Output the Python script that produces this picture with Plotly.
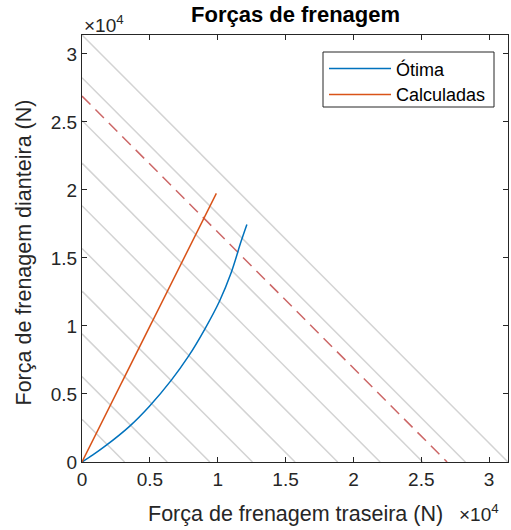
import plotly.graph_objects as go

# ---- data (N) ----
# ideal (optimal) distribution: rear force, front force
otima_traseira = [0, 800, 1700, 3500, 4970, 6570, 7850, 9030, 10130, 10990, 11730, 12150]
otima_dianteira = [0, 520, 1160, 2620, 4100, 6000, 7780, 9740, 11820, 13910, 16240, 17460]
# calculated (fixed ratio) distribution
calc_traseira = [0, 9900]
calc_dianteira = [0, 19750]
# constant total-force lines (intercepts)
niveis_total = [3140, 6280, 9420, 12560, 15700, 18840, 21970, 25110, 28250, 31390]
# dashed reference total-force line
nivel_tracejado = 26900

eixo_max = 31390
tick_vals = [0, 5000, 10000, 15000, 20000, 25000, 30000]
tick_text = ["0", "0.5", "1", "1.5", "2", "2.5", "3"]

FONT = "Liberation Sans, Arial, Helvetica, sans-serif"
AX = "#262626"

fig = go.Figure()

for c in niveis_total:
    fig.add_trace(go.Scatter(x=[0, c], y=[c, 0], mode="lines",
                             line=dict(color="#d3d3d3", width=1.5),
                             showlegend=False, hoverinfo="skip"))

fig.add_trace(go.Scatter(x=[0, nivel_tracejado], y=[nivel_tracejado, 0], mode="lines",
                         line=dict(color="#cc6666", width=1.5, dash="12px,7px"),
                         showlegend=False, hoverinfo="skip"))

fig.add_trace(go.Scatter(x=otima_traseira, y=otima_dianteira, mode="lines", name="Ótima",
                         line=dict(color="#0072BD", width=1.5, shape="spline", smoothing=1.0)))
fig.add_trace(go.Scatter(x=calc_traseira, y=calc_dianteira, mode="lines", name="Calculadas",
                         line=dict(color="#D95319", width=1.5)))

L, R, T, B = 82, 508, 35, 462
W_, H_ = 511, 530


def px(x):
    return (x - L) / (R - L)


def py(y):
    return (B - y) / (B - T)


axis_common = dict(range=[0, eixo_max], showgrid=False, zeroline=False,
                   showline=True, linecolor=AX, linewidth=1, mirror="ticks",
                   ticks="inside", ticklen=5, tickwidth=1, tickcolor=AX,
                   tickvals=tick_vals, ticktext=tick_text,
                   tickfont=dict(family=FONT, size=19, color=AX))

fig.update_layout(
    width=W_, height=H_,
    margin=dict(l=L, r=W_ - R, t=T, b=H_ - B),
    paper_bgcolor="white", plot_bgcolor="white",
    showlegend=False,
    xaxis=dict(**axis_common),
    yaxis=dict(**axis_common),
    font=dict(family=FONT, color=AX),
)

ann = []
ann.append(dict(text="<b>Forças de frenagem</b>", x=px(295.5), y=py(15), xref="paper", yref="paper",
                xanchor="center", yanchor="middle", showarrow=False,
                font=dict(family=FONT, size=22, color="#000")))
ann.append(dict(text="Força de frenagem traseira (N)", x=px(295.5), y=py(514), xref="paper", yref="paper",
                xanchor="center", yanchor="middle", showarrow=False,
                font=dict(family=FONT, size=21.5, color=AX)))
ann.append(dict(text="Força de frenagem dianteira (N)", x=px(23.5), y=py(253), xref="paper", yref="paper",
                xanchor="center", yanchor="middle", showarrow=False, textangle=-90,
                font=dict(family=FONT, size=21.5, color=AX)))
ann.append(dict(text="×10<sup>4</sup>", x=px(82), y=py(24), xref="paper", yref="paper",
                xanchor="left", yanchor="middle", showarrow=False,
                font=dict(family=FONT, size=19, color=AX)))
ann.append(dict(text="×10<sup>4</sup>", x=px(501), y=py(513), xref="paper", yref="paper",
                xanchor="right", yanchor="middle", showarrow=False,
                font=dict(family=FONT, size=19, color=AX)))

# legend (drawn manually to match the reference proportions)
shapes = [dict(type="rect", xref="paper", yref="paper", x0=px(323), x1=px(494), y0=py(107), y1=py(52),
               line=dict(color=AX, width=1), fillcolor="white", layer="above")]
for yy, col, name in [(68.5, "#0072BD", "Ótima"), (94.5, "#D95319", "Calculadas")]:
    shapes.append(dict(type="line", xref="paper", yref="paper", x0=px(329), x1=px(391), y0=py(yy), y1=py(yy),
                       line=dict(color=col, width=1.5), layer="above"))
    ann.append(dict(text=name, x=px(394), y=py(yy + 0.5), xref="paper", yref="paper",
                    xanchor="left", yanchor="middle", showarrow=False,
                    font=dict(family=FONT, size=18, color="#000")))

fig.update_layout(annotations=ann, shapes=shapes)
fig.write_html("out.html")
